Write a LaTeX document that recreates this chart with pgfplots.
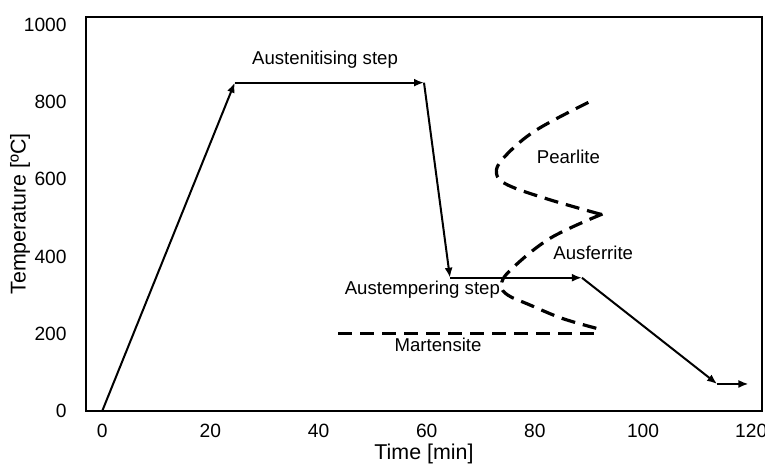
\documentclass[border=0pt]{standalone}
\usepackage{pgfplots}
\pgfplotsset{compat=1.18}
\usepackage{fontspec}
\setmainfont{Liberation Sans}
\usetikzlibrary{arrows.meta}
\begin{document}
\fontsize{9.3}{11}\selectfont
\begin{tikzpicture}
\begin{axis}[
  scale only axis,
  width=338pt, height=197pt,
  xmin=-3, xmax=122, ymin=0, ymax=1020,
  xtick={0,20,...,120}, ytick={0,200,...,1000},
  major tick length=0pt,
  axis line style={line width=1.3pt},
  /pgf/number format/assume math mode=true,
  /pgf/number format/set thousands separator={},
  tick label style={font=\fontsize{9.6}{11}\selectfont},
  xticklabel style={yshift=-3pt},
  yticklabel style={xshift=-6.4pt},
  label style={font=\fontsize{10.7}{12}\selectfont},
  xlabel={Time [min]},
  ylabel={Temperature [ºC]},
  xlabel style={at={(axis description cs:0.5,0)}, anchor=center, yshift=-21.5pt},
  ylabel style={at={(axis description cs:0,0.5)}, anchor=center, yshift=33pt},
  clip=false,
]
% heat treatment path (each step an arrow)
\addplot[line width=1pt, -{Latex[length=5pt,width=4pt]}] coordinates {(0,0) (24.5,850)};
\addplot[line width=1pt, -{Latex[length=5pt,width=4pt]}] coordinates {(24.5,850) (59.5,850)};
\addplot[line width=1pt, -{Latex[length=5pt,width=4pt]}] coordinates {(59.5,850) (64.3,345)};
\addplot[line width=1pt, -{Latex[length=5pt,width=4pt]}] coordinates {(64.3,345) (88.7,345)};
\addplot[line width=1pt, -{Latex[length=5pt,width=4pt]}] coordinates {(88.7,345) (113.7,70)};
\addplot[line width=1pt, -{Latex[length=5pt,width=4pt]}] coordinates {(113.7,70) (119.5,70)};
% pearlite C-curve
\addplot[line width=1.6pt, dash pattern=on 7pt off 4pt, smooth, tension=0.6] coordinates {
  (89.9,799) (80,725) (74.2,655) (72.9,615) (75,585) (82.5,548) (92.5,508)};
% bainite (ausferrite) C-curve
\addplot[line width=1.6pt, dash pattern=on 7pt off 4pt, smooth, tension=0.6] coordinates {
  (92.5,510) (82.8,447) (75.5,365) (73.8,326) (75,300) (79,275) (85,240) (91.4,214)};
% martensite start
\addplot[line width=1.6pt, dash pattern=on 7pt off 4pt] coordinates {(43.6,200) (91.3,200)};
% labels
\node[anchor=base, inner sep=0pt] at (axis cs:41.2,896) {Austenitising step};
\node[anchor=base, inner sep=0pt] at (axis cs:86.2,641) {Pearlite};
\node[anchor=base, inner sep=0pt] at (axis cs:90.8,391) {Ausferrite};
\node[anchor=base, inner sep=0pt] at (axis cs:59.2,300.6) {Austempering step};
\node[anchor=base, inner sep=0pt] at (axis cs:62.1,154) {Martensite};
\end{axis}
\pgfresetboundingbox
\path (-43pt,-27pt) rectangle (339.5pt,205.5pt);
\end{tikzpicture}
\end{document}
